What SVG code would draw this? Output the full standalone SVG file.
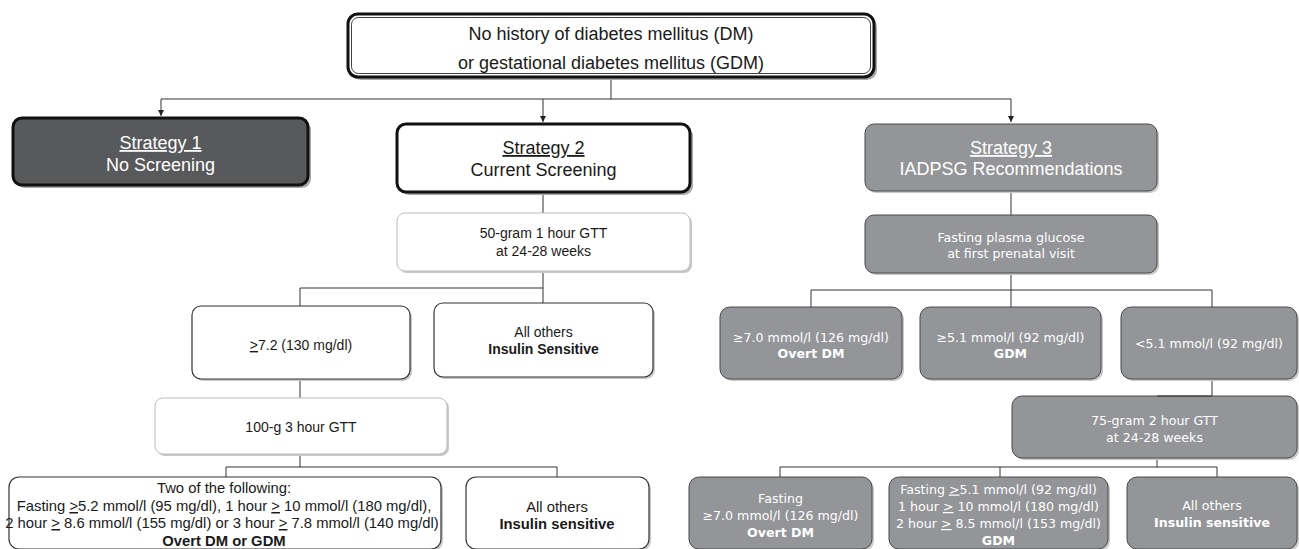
<svg xmlns="http://www.w3.org/2000/svg" width="1299" height="549" viewBox="0 0 1299 549">
<defs>
<marker id="arr" viewBox="0 0 10 10" refX="10" refY="5" markerWidth="6" markerHeight="6" orient="auto" markerUnits="userSpaceOnUse">
<path d="M0,0 L10,5 L0,10 z" fill="#222"/>
</marker>
</defs>
<style>
.sh{fill:#a8a8a8;stroke:none}
.shl{fill:#c8c8c8;stroke:none}
.thick{stroke:#111;stroke-width:3}
.lite{fill:#fff;stroke:#bdbdbd;stroke-width:1}
.wb{fill:#fff;stroke:#333;stroke-width:1.2}
.gb{fill:#939598;stroke:#4a4a4a;stroke-width:1}
.t{font-family:"Liberation Sans",Arial,sans-serif;text-anchor:middle;fill:#1a1a1a}
.big{font-size:18px}
.m{font-size:14px}
.bl{font-size:14.8px}
.r{font-family:"DejaVu Sans",Verdana,sans-serif;text-anchor:middle;fill:#fff;font-size:12.6px}
.w{fill:#fff}
.b{font-weight:bold}
.u{text-decoration:underline}
.c{fill:none;stroke:#333;stroke-width:1}
</style>

<g id="connectors">
<path class="c" d="M611,79 V99 M161,99 H1011"/>
<path class="c" d="M161,99 V116" marker-end="url(#arr)"/>
<path class="c" d="M543,99 V122" marker-end="url(#arr)"/>
<path class="c" d="M1011,99 V122" marker-end="url(#arr)"/>
<path class="c" d="M543,193 V213 M543,271 V303 M300,288 H543 M300,288 V306 M300,379 V398 M300,454 V467 M226,467 H557 M226,467 V477 M557,467 V477"/>
<path class="c" d="M1011,191 V215 M1011,273 V307 M811,290 H1212 M811,290 V307 M1212,290 V396 M1157,458 V467 M780,467 H1217 M780,467 V477 M1000,467 V477 M1217,467 V477"/>
</g>

<g id="n-top">
<rect class="sh" x="351" y="17" width="526" height="63" rx="10"/>
<rect class="thick" fill="#fff" x="348" y="14" width="526" height="63" rx="10"/>
<rect fill="none" stroke="#111" stroke-width="0.8" x="351.5" y="17.5" width="519" height="56" rx="7"/>
<text class="t big" x="611" y="40">No history of diabetes mellitus (DM)</text>
<text class="t big" x="611" y="69">or gestational diabetes mellitus (GDM)</text>
</g>

<g id="n-s1">
<rect class="sh" x="16" y="121" width="295" height="67" rx="9"/>
<rect class="thick" fill="#58595b" x="13" y="118" width="295" height="67" rx="9"/>
<text class="t big w" x="160.5" y="149"><tspan class="u">Strategy 1</tspan></text>
<text class="t big w" x="160.5" y="171">No Screening</text>
</g>

<g id="n-s2">
<rect class="sh" x="400" y="127" width="293" height="68" rx="9"/>
<rect class="thick" fill="#fff" x="397" y="124" width="293" height="68" rx="9"/>
<text class="t big" x="543.5" y="154"><tspan class="u">Strategy 2</tspan></text>
<text class="t big" x="543.5" y="176">Current Screening</text>
</g>

<g id="n-s3">
<rect class="shl" x="867" y="126" width="292" height="67" rx="9"/>
<rect class="gb" x="865" y="124" width="292" height="67" rx="9"/>
<text class="t big w" x="1011" y="154"><tspan class="u">Strategy 3</tspan></text>
<text class="t big w" x="1011" y="175">IADPSG Recommendations</text>
</g>

<g id="n-50g">
<rect class="shl" x="399" y="215" width="293" height="58" rx="8"/>
<rect class="lite" x="397" y="213" width="293" height="58" rx="8"/>
<text class="t m" x="543.5" y="238">50-gram 1 hour GTT</text>
<text class="t m" x="543.5" y="256">at 24-28 weeks</text>
</g>

<g id="n-72">
<rect class="shl" x="194" y="308" width="218" height="73" rx="9"/>
<rect class="wb" x="192" y="306" width="218" height="73" rx="9"/>
<text class="t m" x="301" y="350"><tspan class="u">&gt;</tspan>7.2 (130 mg/dl)</text>
</g>

<g id="n-others1">
<rect class="shl" x="436" y="305" width="219" height="74" rx="9"/>
<rect class="wb" x="434" y="303" width="219" height="74" rx="9"/>
<text class="t m" x="543.5" y="337">All others</text>
<text class="t m b" x="543.5" y="354">Insulin Sensitive</text>
</g>

<g id="n-100g">
<rect class="shl" x="157" y="400" width="292" height="56" rx="8"/>
<rect class="lite" x="155" y="398" width="292" height="56" rx="8"/>
<text class="t m" x="301" y="432">100-g 3 hour GTT</text>
</g>

<g id="n-twoof">
<rect class="shl" x="11" y="479" width="432" height="72" rx="10"/>
<rect class="wb" x="9" y="477" width="432" height="72" rx="10"/>
<text class="t bl" x="224" y="493">Two of the following:</text>
<text class="t bl" x="224" y="511">Fasting <tspan class="u">&gt;</tspan>5.2 mmol/l (95 mg/dl), 1 hour <tspan class="u">&gt;</tspan> 10 mmol/l (180 mg/dl),</text>
<text class="t bl" x="222" y="528">2 hour <tspan class="u">&gt;</tspan> 8.6 mmol/l (155 mg/dl) or 3 hour <tspan class="u">&gt;</tspan> 7.8 mmol/l (140 mg/dl)</text>
<text class="t bl b" x="224" y="546">Overt DM or GDM</text>
</g>

<g id="n-others2">
<rect class="shl" x="468" y="479" width="183" height="72" rx="10"/>
<rect class="wb" x="466" y="477" width="183" height="72" rx="10"/>
<text class="t bl" x="557" y="512">All others</text>
<text class="t bl b" x="557" y="529">Insulin sensitive</text>
</g>

<g id="n-fpg">
<rect class="shl" x="867" y="217" width="292" height="58" rx="9"/>
<rect class="gb" x="865" y="215" width="292" height="58" rx="9"/>
<text class="r" x="1011" y="241.5">Fasting plasma glucose</text>
<text class="r" x="1011" y="257.5">at first prenatal visit</text>
</g>

<g id="n-overt1">
<rect class="shl" x="722" y="309" width="182" height="72" rx="10"/>
<rect class="gb" x="720" y="307" width="182" height="72" rx="10"/>
<text class="r" x="811" y="341.5">≥7.0 mmol/l (126 mg/dl)</text>
<text class="r b" x="811" y="357.5">Overt DM</text>
</g>

<g id="n-gdm1">
<rect class="shl" x="922" y="309" width="181" height="72" rx="10"/>
<rect class="gb" x="920" y="307" width="181" height="72" rx="10"/>
<text class="r" x="1010.5" y="341.5">≥5.1 mmol/l (92 mg/dl)</text>
<text class="r b" x="1010.5" y="357.5">GDM</text>
</g>

<g id="n-lt51">
<rect class="shl" x="1123" y="309" width="176" height="72" rx="10"/>
<rect class="gb" x="1121" y="307" width="176" height="72" rx="10"/>
<text class="r" x="1209" y="347.5">&lt;5.1 mmol/l (92 mg/dl)</text>
</g>

<g id="n-75g">
<rect class="shl" x="1014" y="398" width="285" height="62" rx="10"/>
<rect class="gb" x="1012" y="396" width="285" height="62" rx="10"/>
<text class="r" x="1154.5" y="424.5">75-gram 2 hour GTT</text>
<text class="r" x="1154.5" y="441.5">at 24-28 weeks</text>
</g>

<g id="n-overt2">
<rect class="shl" x="691" y="479" width="183" height="72" rx="10"/>
<rect class="gb" x="689" y="477" width="183" height="72" rx="10"/>
<text class="r" x="780.5" y="502.5">Fasting</text>
<text class="r" x="780.5" y="519.5">≥7.0 mmol/l (126 mg/dl)</text>
<text class="r b" x="780.5" y="536.5">Overt DM</text>
</g>

<g id="n-gdm2">
<rect class="shl" x="891" y="479" width="219" height="72" rx="10"/>
<rect class="gb" x="889" y="477" width="219" height="72" rx="10"/>
<text class="r" x="998.5" y="493.5">Fasting <tspan class="u">&gt;</tspan>5.1 mmol/l (92 mg/dl)</text>
<text class="r" x="998.5" y="511">1 hour <tspan class="u">&gt;</tspan> 10 mmol/l (180 mg/dl)</text>
<text class="r" x="998.5" y="528">2 hour <tspan class="u">&gt;</tspan> 8.5 mmol/l (153 mg/dl)</text>
<text class="r b" x="998.5" y="545">GDM</text>
</g>

<g id="n-others3">
<rect class="shl" x="1129" y="479" width="170" height="72" rx="10"/>
<rect class="gb" x="1127" y="477" width="170" height="72" rx="10"/>
<text class="r" x="1212" y="509.5">All others</text>
<text class="r b" x="1212" y="526.5">Insulin sensitive</text>
</g>

<g id="connectors-over">
<path class="c" stroke-width="1.6" d="M1212,396 H1157"/>
</g>
</svg>
